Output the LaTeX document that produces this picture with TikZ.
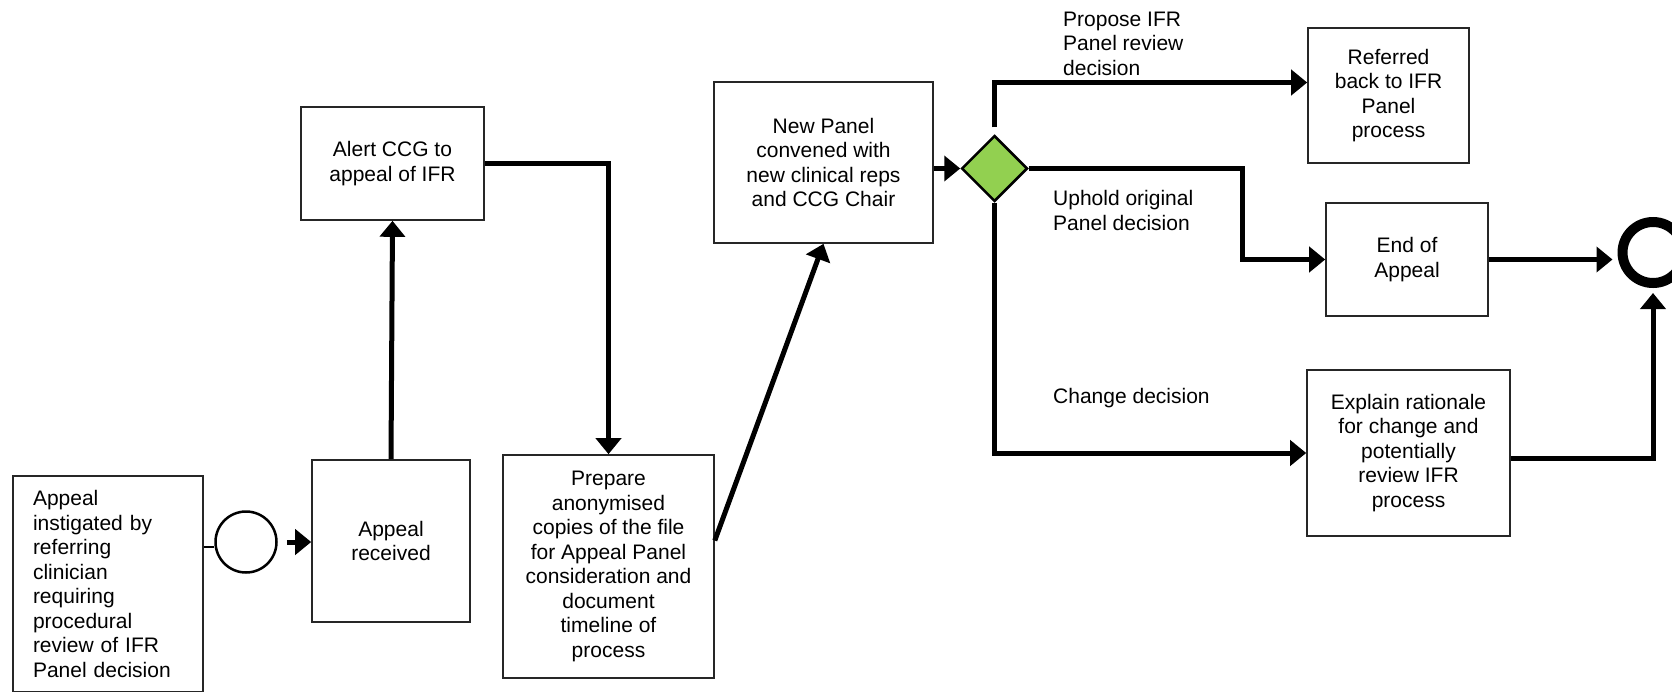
\documentclass[tikz,border=0pt]{standalone}
\usepackage{fontspec}
\setmainfont{Liberation Sans}
\usetikzlibrary{arrows.meta,shapes.geometric,calc}
\definecolor{dgreen}{HTML}{92D050}
\begin{document}
\begin{tikzpicture}[x=1pt,y=-1pt,
  box/.style={draw=black!85,line width=1.6pt,align=center,inner sep=0pt,font=\fontsize{21}{24.5}\selectfont},
  lbl/.style={align=left,inner sep=0pt,anchor=west,font=\fontsize{21}{24.5}\selectfont},
  flow/.style={line width=5pt,-{Triangle[length=16pt,width=25pt]}},
  thinline/.style={line width=2.5pt}]
\useasboundingbox (0,0) rectangle (1672,691);

\node[box,align=left,text width=150pt,minimum width=190pt,minimum height=216pt,inner xsep=20pt] (b1) at (108,584)
  {Appeal\\instigated by\\referring\\clinician\\requiring\\procedural\\review of IFR\\Panel decision};
\node[circle,draw,line width=2.5pt,minimum size=61pt,inner sep=0pt] (st) at (246,542) {};
\node[box,minimum width=158pt,minimum height=162pt] (recv) at (391,541) {Appeal\\received};
\node[box,minimum width=183pt,minimum height=113pt] (alert) at (392.5,163.5) {Alert CCG to\\appeal of IFR};
\node[box,minimum width=211pt,minimum height=223pt] (prep) at (608.5,566.5)
  {Prepare\\anonymised\\copies of the file\\for Appeal Panel\\consideration and\\document\\timeline of\\process};
\node[box,minimum width=219pt,minimum height=161pt] (np) at (823.5,162.5)
  {New Panel\\convened with\\new clinical reps\\and CCG Chair};
\node[diamond,draw,fill=dgreen,line width=2.5pt,minimum width=66pt,minimum height=66pt,inner sep=0pt] (dia) at (994.5,168.5) {};
\node[box,minimum width=161pt,minimum height=135pt] (ref) at (1388.5,95.5) {Referred\\back to IFR\\Panel\\process};
\node[box,minimum width=162pt,minimum height=113pt] (endb) at (1407,259.5) {End of\\Appeal};
\node[box,minimum width=203pt,minimum height=166pt] (expl) at (1408.5,453)
  {Explain rationale\\for change and\\potentially\\review IFR\\process};
\node[circle,draw,line width=10pt,minimum size=61pt,inner sep=0pt] (endc) at (1653,252.5) {};

\node[lbl] (l1) at (1063,43.5) {Propose IFR\\Panel review\\decision};
\node[lbl] (l2) at (1053,210.5) {Uphold original\\Panel decision};
\node[lbl] (l3) at (1053,398) {Change decision};

\draw[thinline] ([yshift=-5pt]st.west) -- ([yshift=-5pt]st.west -| b1.east);
\draw[flow] ([xshift=9pt]st.east) -- (st.east -| recv.west);
\draw[flow] (recv.north) -- (alert.south);
\draw[flow] (alert.east) -| (prep.north);
\draw[flow] ([yshift=26pt]prep.east) -- (np.south);
\draw[flow] (dia.west -| np.east) -- (dia.west);
\draw[flow] ([yshift=7pt]dia.north) |- ([yshift=13pt]ref.west);
\coordinate (k1) at (1242,168.5);
\draw[flow] (dia.east) -- (k1) |- (endb.west);
\draw[flow,shorten >=5pt] (endb.east) -- (endb.east -| endc.west);
\draw[flow] (dia.south) |- (expl.west);
\draw[flow,shorten >=5pt] ([yshift=-5pt]expl.east) -| (endc.south);
\end{tikzpicture}
\end{document}
